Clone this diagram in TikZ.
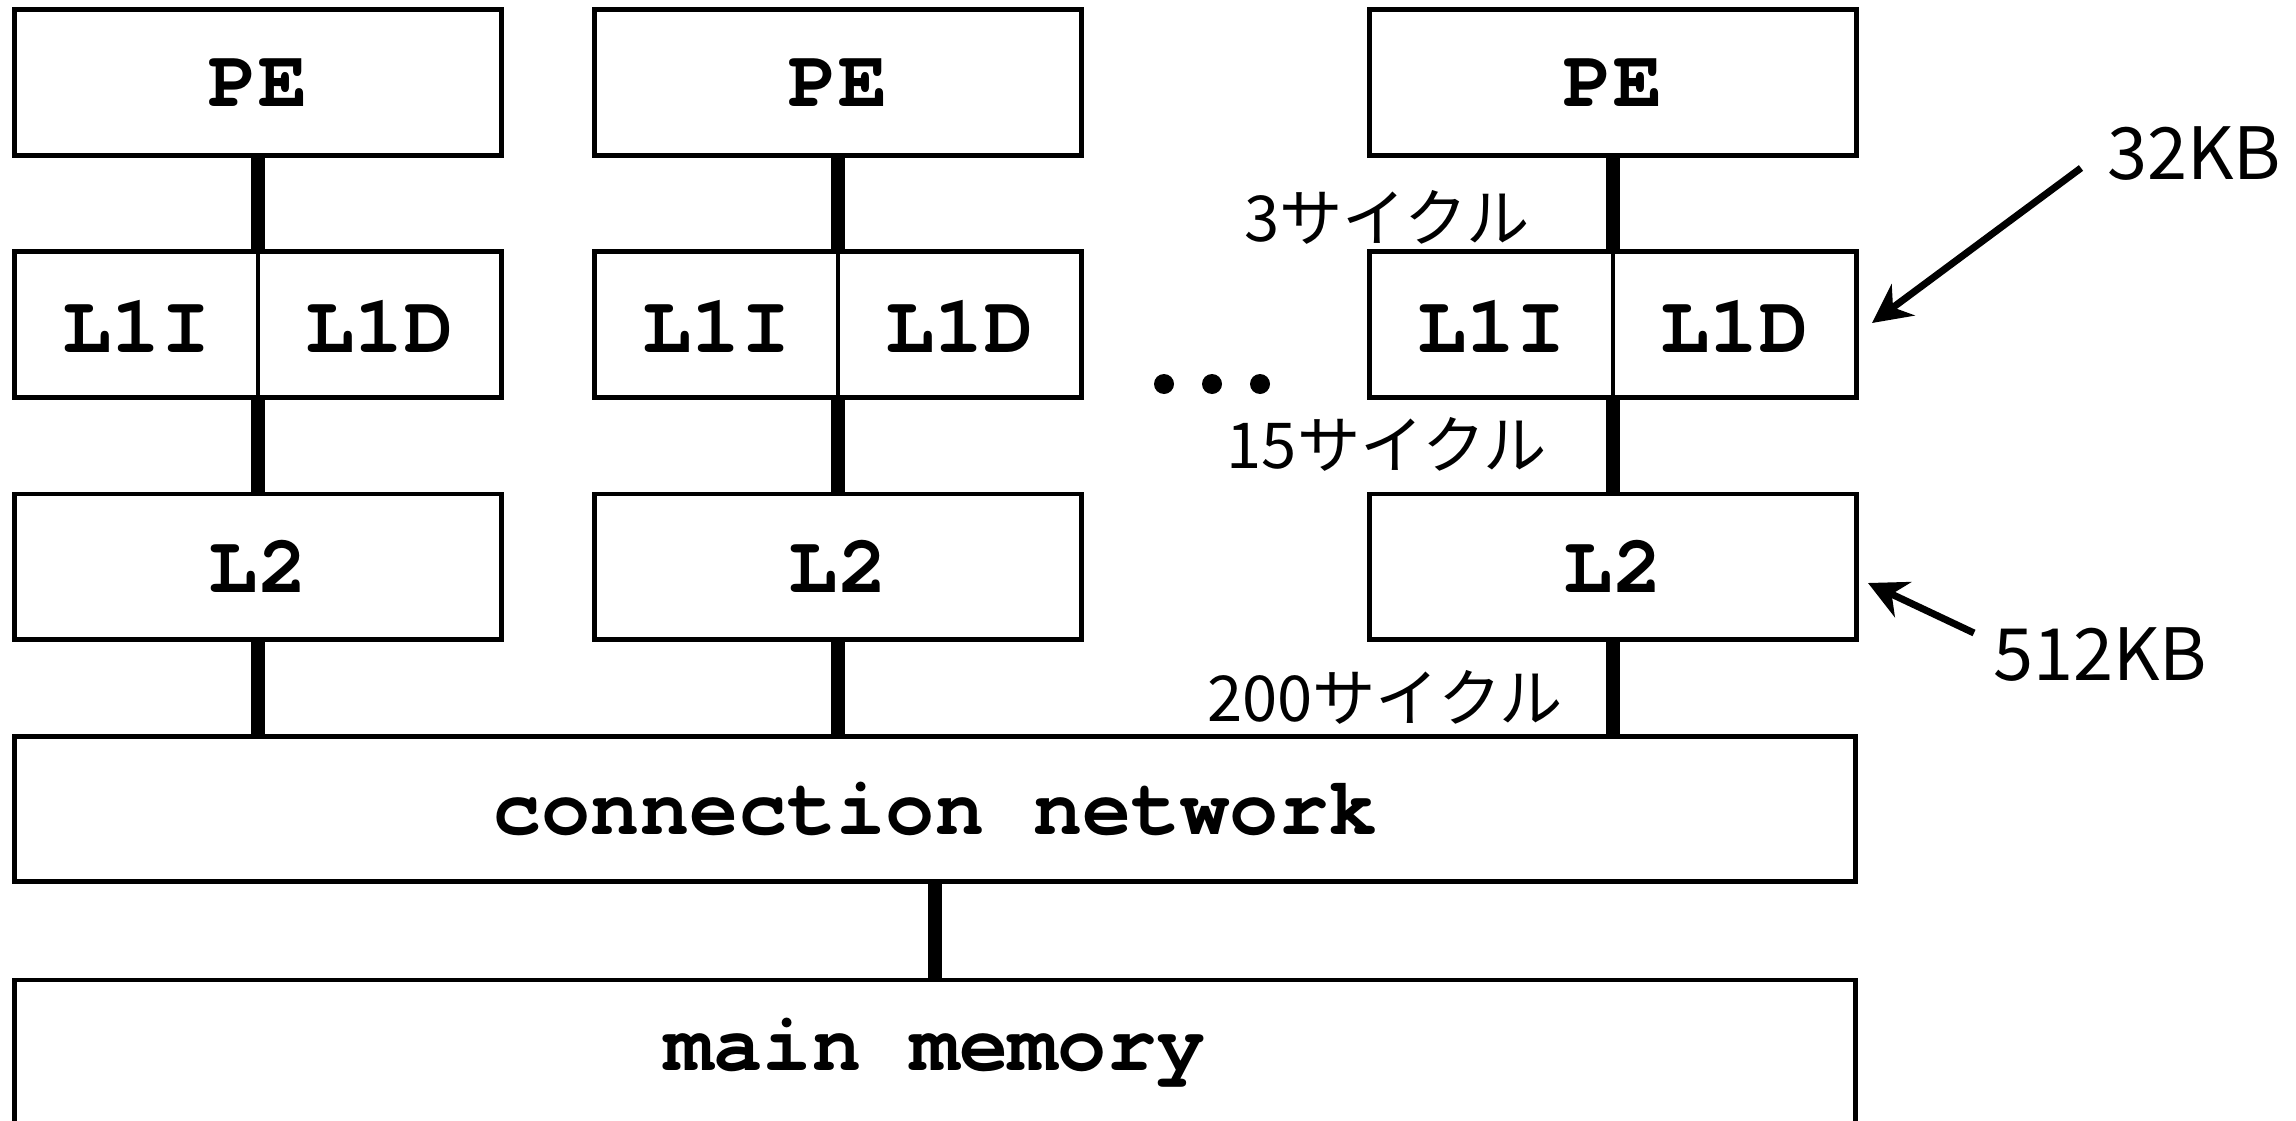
\documentclass[tikz,border=0pt]{standalone}
\usepackage{fontspec}
\setmonofont{texgyrecursor}[Extension=.otf, UprightFont=*-regular, BoldFont=*-bold]
\newfontfamily\jpfont{Noto Sans CJK JP}
\usetikzlibrary{arrows.meta}

\tikzset{
  unit/.style={draw, line width=1.4pt, inner sep=0pt, minimum height=1.45cm,
    font=\ttfamily\bfseries\fontsize{23.3}{28}\selectfont},
  colbox/.style={unit, minimum width=4.86cm},
  widebox/.style={unit, minimum width=18.4cm},
  tag/.style={inner sep=0pt, font=\ttfamily\bfseries\fontsize{23.3}{28}\selectfont},
  conn/.style={line width=4pt},
  cyc/.style={inner sep=0pt, font=\jpfont\fontsize{18}{21}\selectfont},
  size/.style={inner sep=0pt, font=\jpfont\fontsize{20.5}{24}\selectfont},
}

\begin{document}
\begin{tikzpicture}[x=0.01cm, y=-0.01cm, >={Stealth[length=11pt,width=11pt]}]
\useasboundingbox (0,0) rectangle (2296,1121);

% shared levels
\node[widebox] (net) at (935,809) {connection network};
\node[widebox] (mem) at (935,1052.5) {main memory};
\draw[conn] (net) -- (mem);

% one column per PE
\foreach \x/\n in {258/1, 838/2, 1613/3}
{
    \node[colbox] (pe\n) at (\x,82.5) {PE};
    \node[colbox] (l1\n) at (\x,324.5) {};
    \draw[line width=1.2pt] (l1\n.north) -- (l1\n.south);
    \node[tag] (l1i\n) at (\x-121.5,326) {L1I};
    \node[tag] (l1d\n) at (\x+121.5,326) {L1D};
    \node[colbox] (l2\n) at (\x,566.5) {L2};
    \draw[conn] (pe\n) -- (l1\n);
    \draw[conn] (l1\n) -- (l2\n);
    \draw[conn] (l2\n.south) -- (l2\n.south |- net.north);
}

\foreach \x in {1164,1212,1260}
{
    \fill (\x,384) circle (10);
}

% latencies
\node[cyc] (cyc1) at (1387,217) {3サイクル};
\node[cyc] (cyc2) at (1387,444) {15サイクル};
\node[cyc] (cyc3) at (1385,697) {200サイクル};

% sizes
\node[size] (kb1) at (2194,154) {32KB};
\node[size] (kb2) at (2100,655) {512KB};
\coordinate (from1) at (2081,168);
\coordinate (to1) at (1872,323);
\coordinate (from2) at (1974,633);
\coordinate (to2) at (1868,583);
\draw[->, line width=2pt] (from1) -- (to1);
\draw[->, line width=2pt] (from2) -- (to2);

\end{tikzpicture}
\end{document}
